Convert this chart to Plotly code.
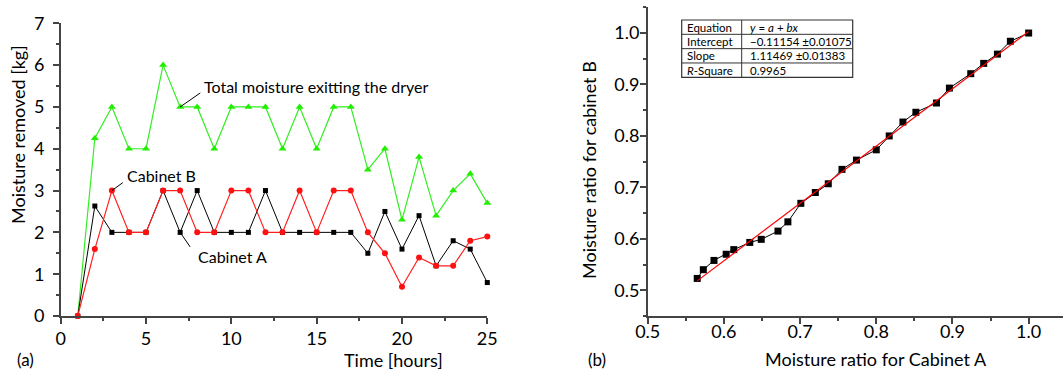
import plotly.graph_objects as go

# ---------------- data ----------------
time_h = list(range(1, 26))
total_moisture = [0, 4.25, 5, 4, 4, 6, 5, 5, 4, 5, 5, 5, 4, 5, 4, 5, 5, 3.5, 4, 2.3, 3.8, 2.4, 3.0, 3.4, 2.7]
cabinet_a = [0, 2.63, 2, 2, 2, 3, 2, 3, 2, 2, 2, 3, 2, 2, 2, 2, 2, 1.5, 2.5, 1.6, 2.4, 1.2, 1.8, 1.6, 0.8]
cabinet_b = [0, 1.6, 3, 2, 2, 3, 3, 2, 2, 3, 3, 2, 2, 3, 2, 3, 3, 2.0, 1.5, 0.7, 1.4, 1.2, 1.2, 1.8, 1.9]

mr_a = [0.565, 0.573, 0.587, 0.603, 0.613, 0.634, 0.649, 0.671, 0.684, 0.701, 0.720, 0.737, 0.755,
        0.774, 0.800, 0.817, 0.835, 0.852, 0.879, 0.896, 0.924, 0.941, 0.959, 0.976, 1.0]
mr_b = [0.523, 0.540, 0.558, 0.570, 0.579, 0.593, 0.599, 0.615, 0.633, 0.669, 0.690, 0.707, 0.735,
        0.753, 0.773, 0.800, 0.827, 0.846, 0.864, 0.893, 0.921, 0.941, 0.959, 0.984, 1.0]

fit_intercept = -0.11154
fit_slope = 1.11469
table_rows = [
    ("Equation", "<i>y</i> = <i>a</i> + <i>bx</i>"),
    ("Intercept", "\u22120.11154 \u00b10.01075"),
    ("Slope", "1.11469 \u00b10.01383"),
    ("<i>R</i>-Square", "0.9965"),
]

W, H = 1064, 371
FONT = "Lato"


def px(x):
    return x / W


def py(y):
    return 1 - y / H


fig = go.Figure()

fig.add_trace(go.Scatter(x=time_h, y=total_moisture, mode="lines+markers",
                         line=dict(color="#33ee22", width=1.2),
                         marker=dict(symbol="triangle-up", size=7, color="#22ee00"),
                         cliponaxis=False, xaxis="x", yaxis="y"))
fig.add_trace(go.Scatter(x=time_h, y=cabinet_a, mode="lines+markers",
                         line=dict(color="black", width=1),
                         marker=dict(symbol="square", size=5, color="black"),
                         cliponaxis=False, xaxis="x", yaxis="y"))
fig.add_trace(go.Scatter(x=time_h, y=cabinet_b, mode="lines+markers",
                         line=dict(color="#ff2020", width=1.2),
                         marker=dict(symbol="circle", size=6, color="#ff1010"),
                         cliponaxis=False, xaxis="x", yaxis="y"))

# right panel
fig.add_trace(go.Scatter(x=mr_a, y=mr_b, mode="lines+markers",
                         line=dict(color="black", width=1),
                         marker=dict(symbol="square", size=7, color="black"),
                         cliponaxis=False, xaxis="x2", yaxis="y2"))
fx = [min(mr_a), max(mr_a)]
fy = [fit_intercept + fit_slope * v for v in fx]
fig.add_trace(go.Scatter(x=fx, y=fy, mode="lines",
                         line=dict(color="#ff0000", width=1.2),
                         cliponaxis=False, xaxis="x2", yaxis="y2"))

axis_common = dict(showgrid=False, zeroline=False, showline=True, linecolor="#444444", linewidth=1.5,
                   ticks="outside", ticklen=6, tickwidth=1.5, tickcolor="#444444", automargin=False,
                   tickfont=dict(family=FONT, size=18, color="black"))

fig.update_layout(
    template="none",
    width=W, height=H, margin=dict(l=0, r=0, t=0, b=0, pad=0),
    paper_bgcolor="white", plot_bgcolor="white", showlegend=False,
    font=dict(family=FONT, color="black"),
    xaxis=dict(domain=[px(60.7), px(487.3)], range=[0, 25], dtick=5, anchor="y",
               minor=dict(dtick=2.5, ticklen=3, tickcolor="#444444", ticks="outside"),
               ticklabelstandoff=0, **axis_common),
    yaxis=dict(domain=[py(316), py(23.3)], range=[0, 7], dtick=1, anchor="x",
               minor=dict(dtick=0.5, ticklen=3, tickcolor="#444444", ticks="outside"),
               ticklabelstandoff=5, **axis_common),
    xaxis2=dict(domain=[px(647.7), 0.999], range=[0.5, 1.045], dtick=0.1, tick0=0.5, tickformat=".1f",
                anchor="y2",
                minor=dict(dtick=0.05, ticklen=3, tickcolor="#444444", ticks="outside"),
                ticklabelstandoff=-7, **axis_common),
    yaxis2=dict(domain=[py(316), py(7.3)], range=[0.45, 1.05], dtick=0.1, tick0=0.5, tickformat=".1f",
                anchor="x2",
                minor=dict(dtick=0.05, ticklen=3, tickcolor="#444444", ticks="outside"),
                ticklabelstandoff=-3, **axis_common),
)

ann = []


def text(x, y, s, size=18, xanchor="center", angle=0):
    ann.append(dict(x=px(x), y=py(y), xref="paper", yref="paper", text=s, showarrow=False,
                    xanchor=xanchor, yanchor="middle", textangle=angle,
                    font=dict(family=FONT, size=size, color="black")))


# axis titles and panel labels
text(393, 360, "Time [hours]")
text(18, 135, "Moisture removed [kg]", angle=-90)
text(876, 359, "Moisture ratio for Cabinet A")
text(589, 170, "Moisture ratio for cabinet B", angle=-90)
text(25, 359, "(a)", size=17)
text(597, 359, "(b)", size=17)

# callouts
text(202, 86.7, "Total moisture exitting the dryer", size=16, xanchor="left")
text(125, 175.7, "Cabinet B", size=16, xanchor="left")
text(196, 256.7, "Cabinet A", size=16, xanchor="left")
for (xd, yd, ax, ay) in [(7, 5, 21.6, -15), (3, 3, 12.4, -9), (7, 2, 11, 16)]:
    ann.append(dict(x=xd, y=yd, xref="x", yref="y", text="", showarrow=True, arrowhead=0,
                    arrowwidth=1, arrowcolor="black", ax=ax, ay=ay, standoff=0))

# fit table
tl, tr, tt, tb, tc = 681.7, 852.7, 20, 77.3, 741.7
rh = (tb - tt) / 4
shapes = [dict(type="rect", xref="paper", yref="paper", x0=px(tl), x1=px(tr), y0=py(tb), y1=py(tt),
               line=dict(color="#333333", width=1.2), fillcolor="white", layer="above"),
          dict(type="line", xref="paper", yref="paper", x0=px(tc), x1=px(tc), y0=py(tb), y1=py(tt),
               line=dict(color="#333333", width=1))]
for i in range(1, 4):
    shapes.append(dict(type="line", xref="paper", yref="paper", x0=px(tl), x1=px(tr),
                       y0=py(tt + i * rh), y1=py(tt + i * rh), line=dict(color="#333333", width=1)))
for i, (k, v) in enumerate(table_rows):
    yc = tt + (i + 0.5) * rh
    text(tl + 3, yc, k, size=11.5, xanchor="left")
    text(tc + 6, yc, v, size=11.5, xanchor="left")

fig.update_layout(annotations=ann, shapes=shapes)
fig.write_html("out.html")
